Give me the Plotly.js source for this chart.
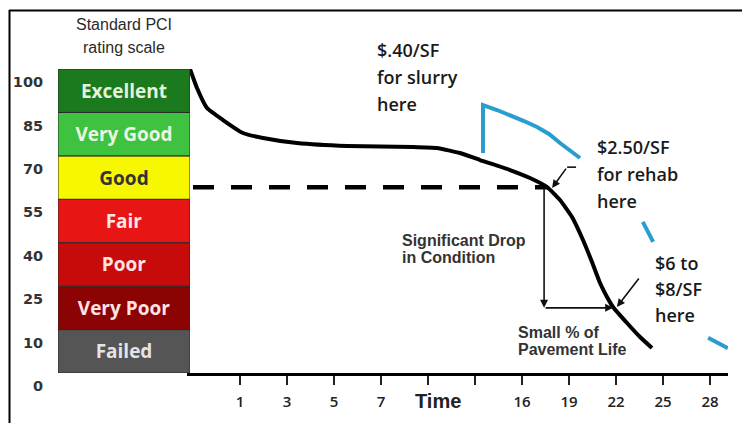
<!DOCTYPE html>
<html><head><meta charset="utf-8">
<script src="https://cdn.plot.ly/plotly-3.0.1.min.js"></script>
<style>html,body{margin:0;padding:0;background:#fff}#chart{width:742px;height:423px}</style>
</head><body><div id="chart"></div>
<script>
// ---- data ----
// rating scale bands (bottom to top), in band units 0..7
const ratingCategories = ["Failed","Very Poor","Poor","Fair","Good","Very Good","Excellent"];
const ratingBase = [0,1,2,3,4,5,6];
const ratingHeight = [1,1,1,1,1,1,1];
const ratingTickVals = [0,1,2,3,4,5,6,7];
const ratingTickText = ["0","10","25","40","55","70","85","100"];
// time axis ticks (evenly spaced positions)
const timeTickVals = [0,1,2,3,4,5,6,7,8,9,10];
const timeTickText = ["1","3","5","7","","","16","19","22","25","28"];
// pavement condition curve (time position, band level)
const curveX = [-1.064,-0.915,-0.702,-0.362,0.064,0.489,1.213,2.277,3.681,4.191,4.681,5.106,5.745,6.170,6.532,6.809,7.064,7.298,7.489,7.660,7.809,7.936,8.234,8.511,8.766];
const curveY = [7.000,6.562,6.101,5.825,5.526,5.411,5.296,5.227,5.204,5.181,5.066,4.904,4.674,4.490,4.283,3.983,3.592,3.062,2.556,2.072,1.750,1.520,1.151,0.829,0.576];
// slurry treated curve
const slurryX = [5.170,5.170,5.468,5.745,6.043,6.319,6.574,6.809,7.021,7.234];
const slurryY = [5.066,6.171,6.056,5.941,5.802,5.664,5.503,5.296,5.135,4.951];
// faded continuation fragments of slurry curve
const slurryTailX = [8.57,8.79,null,9.96,10.38];
const slurryTailY = [3.48,3.02,null,0.81,0.57];
// threshold (dashed) line
const thresholdX = [-1.0,6.55];
const thresholdY = [4.28,4.28];
// arrows: [headX, headY, tailX, tailY]
const dropArrow = [6.47,1.50,6.47,4.28];
const lifeArrow = [7.94,1.50,6.47,1.50];
const rehabArrow = [6.64,4.26,6.96,4.74];
const reconArrow = [8.02,1.52,8.51,2.21];

// ---- layout helpers ----
const W=742,H=423;
const px=x=>x/W, py=y=>1-y/H;
const moneyFont = {family:"Open Sans, sans-serif", size:18, color:"#1a1a1a", weight:600};
const grayBold = {family:"Liberation Sans, Arial, sans-serif", size:16, color:"#333", weight:700};
const annotations = [];
function block(lines, x, ys, font, xanchor){
  lines.forEach((t,i)=>annotations.push({text:t, xref:"paper", yref:"paper", x:px(x), y:py(ys[i]),
    xanchor:xanchor||"left", yanchor:"middle", showarrow:false, font:font}));
}
block(["Standard PCI","rating scale"],124,[25,47],{family:"Liberation Sans, Arial, sans-serif",size:16,color:"#2a2a2a"},"center");
block(["$.40/SF","for slurry","here"],375,[50,77,104],moneyFont);
block(["$2.50/SF","for rehab","here"],595,[147,174,201],moneyFont);
block(["$6 to","$8/SF","here"],653,[263,289,315],moneyFont);
block(["Significant Drop","in Condition"],400,[240,257],grayBold);
block(["Small % of","Pavement Life"],516,[332,349],grayBold);
annotations.push({text:"Time", xref:"x", yref:"paper", x:4.21, y:py(401), xanchor:"center", yanchor:"middle",
  showarrow:false, font:{family:"Liberation Sans, Arial, sans-serif", size:20, color:"#222", weight:700}});
function arrow(a){
  annotations.push({xref:"x", yref:"y", axref:"x", ayref:"y", x:a[0], y:a[1], ax:a[2], ay:a[3], text:"",
    showarrow:true, arrowhead:2, arrowsize:1, arrowwidth:1.6, arrowcolor:"#111"});
}
[dropArrow,lifeArrow,rehabArrow,reconArrow].forEach(arrow);

const barColors = ["#555555","#8c0303","#c70b0b","#e81515","#f7f700","#3fc23f","#1b7a1e"];
const barTextColors = ["#e4e4e4","#ffe2e2","#ffe2e2","#ffe6e6","#333333","#e8f6e2","#e4f2dc"];

const traces = [
  {type:"bar", x:ratingCategories.map(()=>0.5), y:ratingHeight, base:ratingBase, width:1,
   xaxis:"x2", yaxis:"y", text:ratingCategories, textposition:"inside", insidetextanchor:"middle",
   textangle:0, constraintext:"none",
   textfont:{family:"Open Sans, sans-serif", size:19, color:barTextColors, weight:700},
   marker:{color:barColors, line:{color:"#2a2a2a", width:1}}, hoverinfo:"skip", showlegend:false},
  {type:"scatter", mode:"lines", x:thresholdX, y:thresholdY, xaxis:"x", yaxis:"y",
   line:{color:"#000", width:4.5, dash:"21px,17px"}, showlegend:false},
  {type:"scatter", mode:"lines", x:curveX, y:curveY, xaxis:"x", yaxis:"y",
   line:{color:"#000", width:4, shape:"spline", smoothing:0.4}, showlegend:false, cliponaxis:false},
  {type:"scatter", mode:"lines", x:slurryX, y:slurryY, xaxis:"x", yaxis:"y",
   line:{color:"#2a9dcf", width:4}, showlegend:false},
  {type:"scatter", mode:"lines", x:slurryTailX, y:slurryTailY, xaxis:"x", yaxis:"y", connectgaps:false,
   line:{color:"#2a9dcf", width:4}, showlegend:false, cliponaxis:false}
];

const layout = {
  width:W, height:H, margin:{l:0,r:0,t:0,b:0}, paper_bgcolor:"#fff", plot_bgcolor:"#fff",
  showlegend:false, bargap:0,
  xaxis:{domain:[px(190),px(728)], range:[-1.0638,10.383], anchor:"y", showgrid:false, zeroline:false,
    showline:true, linewidth:3, linecolor:"#000", ticks:"outside", ticklen:9, tickwidth:2, tickcolor:"#222",
    tickvals:timeTickVals, ticktext:timeTickText, ticklabelstandoff:4,
    tickfont:{family:"Open Sans, sans-serif", size:15, color:"#222", weight:600}, automargin:false},
  xaxis2:{domain:[px(58),px(190)], range:[0,1], anchor:"y", visible:false, fixedrange:true},
  yaxis:{domain:[(H-373)/H,(H-69)/H], range:[0,7], anchor:"x", showgrid:false, zeroline:false,
    showline:true, linewidth:3, linecolor:"#000", ticks:"", tickvals:ratingTickVals, ticktext:ratingTickText,
    ticklabelstandoff:141, ticklabelshift:13,
    tickfont:{family:"DejaVu Sans, sans-serif", size:14.5, color:"#333", weight:700}, automargin:false},
  annotations:annotations,
  shapes:[
    {type:"line", xref:"paper", yref:"paper", x0:px(9), x1:1, y0:py(10.5), y1:py(10.5), line:{color:"#000", width:2}},
    {type:"line", xref:"paper", yref:"paper", x0:px(9.5), x1:px(9.5), y0:py(10), y1:0, line:{color:"#000", width:2}},
    {type:"line", xref:"x", yref:"y", x0:rehabArrow[2], x1:rehabArrow[2]+0.19, y0:rehabArrow[3], y1:rehabArrow[3], line:{color:"#111", width:1.6}}
  ]
};
Plotly.newPlot("chart", traces, layout, {displayModeBar:false, staticPlot:true});
</script></body></html>
